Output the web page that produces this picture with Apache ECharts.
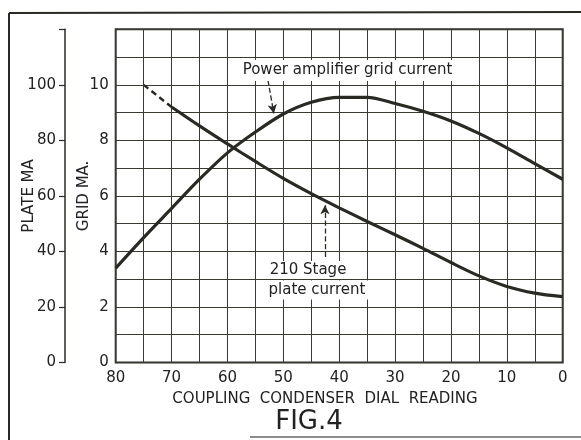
<!DOCTYPE html>
<html>
<head>
<meta charset="utf-8">
<script src="https://cdn.jsdelivr.net/npm/echarts@6/dist/echarts.min.js"></script>
<style>
html,body{margin:0;padding:0;background:#fff;}
#chart{width:581px;height:440px;}
</style>
</head>
<body>
<div id="chart"></div>
<script>
// Coupling condenser dial reading (x axis, reversed 80 -> 0)
var dialReading = [80, 75, 70, 65, 60, 55, 50, 45, 40, 35, 30, 25, 20, 15, 10, 5, 0];
// Power amplifier grid current (grid mA)
var gridCurrent = [3.4, 4.5, 5.55, 6.6, 7.55, 8.3, 8.95, 9.37, 9.55, 9.55, 9.33, 9.05, 8.7, 8.25, 7.73, 7.16, 6.6];
// 210 stage plate current (plate mA), dashed start then solid
var plateDialDashed = [75, 70];
var plateCurrentDashed = [100, 92];
var plateDial = [70, 65, 60, 55, 50, 45, 40, 35, 30, 25, 20, 15, 10, 5, 0];
var plateCurrent = [92, 85.2, 78.7, 72.4, 66.3, 60.8, 55.7, 50.8, 46.0, 41.1, 36.0, 31.2, 27.4, 25.0, 23.7];
// tick labels
var xTickLabels = [80, 70, 60, 50, 40, 30, 20, 10, 0];
var gridTickLabels = [0, 2, 4, 6, 8, 10];
var plateTickLabels = [0, 20, 40, 60, 80, 100];

function pairs(xs, ys) { return xs.map(function (x, i) { return [x, ys[i]]; }); }

var ink = '#2a2a24';
var font = 'DejaVu Sans';

var chart = echarts.init(document.getElementById('chart'), null, {renderer: 'canvas'});
chart.setOption({
  backgroundColor: '#ffffff',
  animation: false,
  grid: {left: 115.7, right: 18.3, top: 29.3, bottom: 77.5, show: true, borderColor: ink, borderWidth: 2,
    backgroundColor: 'transparent', containLabel: false, outerBoundsMode: 'none'},
  xAxis: {
    type: 'value', min: 0, max: 80, interval: 5, inverse: true,
    axisLine: {show: false}, axisTick: {show: false},
    axisLabel: {margin: 8, fontFamily: font, fontSize: 15, color: '#222',
      formatter: function (v) { return xTickLabels.indexOf(v) >= 0 ? String(v) : ''; }},
    splitLine: {show: true, lineStyle: {color: '#3a3a33', width: 1}}
  },
  yAxis: [
    {
      type: 'value', min: 0, max: 12, interval: 1, position: 'left',
      name: 'GRID MA.', nameLocation: 'middle', nameRotate: 90, nameGap: 24, nameMoveOverlap: false,
      nameTextStyle: {fontFamily: font, fontSize: 15, color: '#222'},
      axisLine: {show: false}, axisTick: {show: false},
      axisLabel: {margin: 7, fontFamily: font, fontSize: 15, color: '#222',
        formatter: function (v) { return gridTickLabels.indexOf(v) >= 0 ? String(v) : ''; }},
      splitLine: {show: true, lineStyle: {color: '#3a3a33', width: 1}}
    },
    {
      type: 'value', min: 0, max: 120, interval: 20, position: 'left', offset: 50.7,
      name: 'PLATE MA', nameLocation: 'middle', nameRotate: 90, nameGap: 28, nameMoveOverlap: false,
      nameTextStyle: {fontFamily: font, fontSize: 15, color: '#222'},
      axisLine: {show: true, lineStyle: {color: ink, width: 1.5}},
      axisTick: {show: true, length: 6, lineStyle: {color: ink, width: 1.2}},
      axisLabel: {margin: 9, fontFamily: font, fontSize: 15, color: '#222',
        formatter: function (v) { return plateTickLabels.indexOf(v) >= 0 ? String(v) : ''; }},
      splitLine: {show: false}
    }
  ],
  series: [
    {
      name: 'Power amplifier grid current', type: 'line', yAxisIndex: 0,
      data: pairs(dialReading, gridCurrent), smooth: 0.3, symbol: 'none',
      lineStyle: {color: ink, width: 3.2}, z: 5,
      markLine: {
        silent: true, symbol: ['none', 'arrow'], symbolSize: [7, 9],
        lineStyle: {type: 'dashed', color: ink, width: 1.3},
        label: {show: false},
        data: [[{coord: [52.75, 10.17]}, {coord: [51.7, 8.97]}]]
      }
    },
    {
      name: '210 Stage plate current (dashed)', type: 'line', yAxisIndex: 1,
      data: pairs(plateDialDashed, plateCurrentDashed), symbol: 'none',
      lineStyle: {color: ink, width: 2.4, type: [6, 4]}, z: 5
    },
    {
      name: '210 Stage plate current', type: 'line', yAxisIndex: 1,
      data: pairs(plateDial, plateCurrent), smooth: 0.3, symbol: 'none',
      lineStyle: {color: ink, width: 3.2}, z: 5,
      markLine: {
        silent: true, symbol: ['none', 'arrow'], symbolSize: [7, 9],
        lineStyle: {type: 'dashed', color: ink, width: 1.3},
        label: {show: false},
        data: [[{coord: [42.55, 38.0]}, {coord: [42.55, 56.6]}]]
      }
    }
  ],
  graphic: [
    {type: 'line', shape: {x1: 9, y1: 13, x2: 581, y2: 12}, style: {stroke: ink, lineWidth: 2}, silent: true},
    {type: 'line', shape: {x1: 9, y1: 13, x2: 9, y2: 440}, style: {stroke: ink, lineWidth: 2}, silent: true},
    {type: 'line', shape: {x1: 250, y1: 437, x2: 581, y2: 437}, style: {stroke: '#666', lineWidth: 1.5}, silent: true},
    {type: 'text', x: 347.5, y: 70.5, z: 10,
      style: {text: 'Power amplifier grid current', fontFamily: font, fontSize: 15, fill: '#222',
        align: 'center', verticalAlign: 'middle', backgroundColor: '#fff', padding: [3, 3, 3, 3]}},
    {type: 'text', x: 308, y: 270, z: 10,
      style: {text: '210 Stage', fontFamily: font, fontSize: 15, fill: '#222',
        align: 'center', verticalAlign: 'middle', backgroundColor: '#fff', padding: [2, 3, 1, 3]}},
    {type: 'text', x: 317, y: 290, z: 10,
      style: {text: 'plate current', fontFamily: font, fontSize: 15, fill: '#222',
        align: 'center', verticalAlign: 'middle', backgroundColor: '#fff', padding: [2, 3, 2, 3]}},
    {type: 'text', x: 325, y: 399, z: 10,
      style: {text: 'COUPLING  CONDENSER  DIAL  READING', fontFamily: font, fontSize: 15, fill: '#222',
        align: 'center', verticalAlign: 'middle'}},
    {type: 'text', x: 309, y: 422, z: 10,
      style: {text: 'FIG.4', fontFamily: font, fontSize: 26, fill: '#222',
        align: 'center', verticalAlign: 'middle'}}
  ]
});
</script>
</body>
</html>
